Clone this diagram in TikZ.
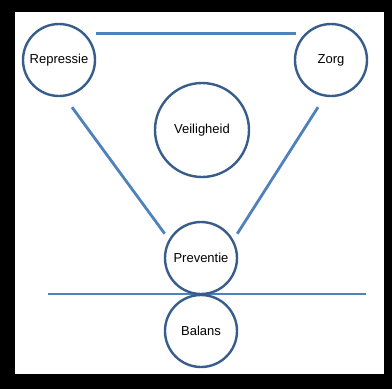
\documentclass[tikz,border=0pt]{standalone}
\usepackage{fontspec}
\setmainfont{Liberation Sans}
\definecolor{ringblue}{RGB}{56,93,138}
\definecolor{lineblue}{RGB}{79,129,189}
\begin{document}
\begin{tikzpicture}[
    x=1pt, y=-1pt,
    ring/.style={circle, draw=ringblue, line width=2.4pt, fill=white, minimum size=72pt, inner sep=0pt, font=\fontsize{13}{15}\selectfont},
    bigring/.style={ring, minimum size=94pt},
    link/.style={draw=lineblue, line width=2.8pt}
]

% Frame
\fill[black] (0,0) rectangle (392,389);
\fill[white] (15,12) rectangle (384,374);

% Balance line
\coordinate (lineL) at (48,294);
\coordinate (lineR) at (366,294);
\draw[link] (lineL) -- (lineR);

% Circles
\node[ring] (repressie) at (59,60) {Repressie};
\node[ring] (zorg) at (331,60) {Zorg};
\node[bigring] (veiligheid) at (202,130) {Veiligheid};
\node[ring] (preventie) at (201,258) {Preventie};
\node[ring] (balans) at (201,331) {Balans};

% Lines
\draw[link] ([shift={(11,0)}]repressie.45) -- ([shift={(-9,0)}]zorg.135);
\draw[link] ([shift={(13,10)}]repressie.south) -- ([shift={(-10,2)}]preventie.135);
\draw[link] ([shift={(-13,10)}]zorg.south) -- ([shift={(10,2)}]preventie.45);

\end{tikzpicture}
\end{document}
